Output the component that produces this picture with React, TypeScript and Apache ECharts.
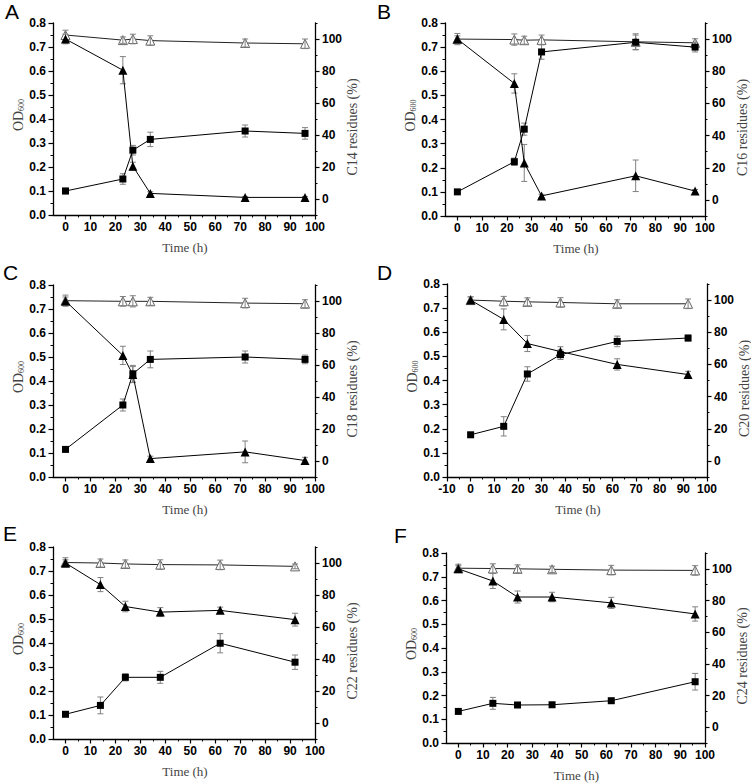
import React, { useEffect, useRef } from 'react';
import * as echarts from 'echarts';

// ---------- data ----------
const timesA = [0, 23, 27, 34, 72, 96];
const odA = [0.1, 0.15, 0.27, 0.315, 0.35, 0.34];
const odErrA = [0.012, 0.022, 0.02, 0.03, 0.025, 0.024];
const resA = [100, 80.5, 20.5, 3.5, 1, 1];
const resErrA = [3, 8.5, 2.5, 1, 0.6, 0.6];
const ctrlA = [102.5, 99.3, 100, 99, 97.5, 97];
const ctrlErrA = [3, 2, 3, 3, 2.5, 3];

const timesB = [0, 23, 27, 34, 72, 96];
const odB = [0.1, 0.225, 0.36, 0.68, 0.72, 0.7];
const odErrB = [0.005, 0.015, 0.025, 0.03, 0.03, 0.02];
const resB = [100, 72.4, 23, 2.5, 15, 5.5];
const resErrB = [2, 6, 11.5, 1, 9.8, 1];
const ctrlB = [100, 99.7, 99.3, 99.5, 98.3, 97.7];
const ctrlErrB = [3.5, 3.5, 2.5, 3, 5, 2.5];

const timesC = [0, 23, 27, 34, 72, 96];
const odC = [0.115, 0.3, 0.43, 0.49, 0.5, 0.49];
const odErrC = [0.005, 0.025, 0.035, 0.035, 0.025, 0.018];
const resC = [100, 66, 54, 1.5, 5.7, 0.3];
const resErrC = [2.5, 5.7, 5, 1.5, 6.8, 2];
const ctrlC = [100.2, 99.8, 99.8, 99.8, 98.7, 98.3];
const ctrlErrC = [3.5, 3, 3.5, 2.5, 3, 2.5];

const timesD = [0, 14, 24, 38, 62, 92];
const odD = [0.175, 0.21, 0.427, 0.507, 0.562, 0.576];
const odErrD = [0.005, 0.04, 0.03, 0.02, 0.022, 0.012];
const resD = [100, 88, 73, 68, 60, 53.7];
const resErrD = [2, 6.5, 5, 3, 3.5, 2];
const ctrlD = [100, 99.3, 98.9, 98.5, 97.7, 97.7];
const ctrlErrD = [2, 3, 2.5, 3, 2.5, 3];

const timesE = [0, 14, 24, 38, 62, 92];
const odE = [0.103, 0.14, 0.257, 0.257, 0.399, 0.32];
const odErrE = [0.005, 0.035, 0.015, 0.025, 0.04, 0.03];
const resE = [100, 86.5, 72.8, 69.3, 70.4, 64.6];
const resErrE = [2, 4.4, 3.3, 2.8, 2, 4];
const ctrlE = [100.3, 100, 99.4, 99, 98.8, 97.9];
const ctrlErrE = [3, 2.5, 2.5, 3, 3, 1.5];

const timesF = [0, 14, 24, 38, 62, 96];
const odF = [0.133, 0.167, 0.16, 0.161, 0.178, 0.258];
const odErrF = [0.006, 0.025, 0.01, 0.008, 0.01, 0.035];
const resF = [100, 92.3, 82.2, 82.2, 78.5, 71.5];
const resErrF = [2, 4.7, 3.8, 3, 3.5, 4.5];
const ctrlF = [100.4, 100.2, 100, 99.7, 99.2, 99];
const ctrlErrF = [2.5, 3, 2.5, 2, 3, 3];

// tick labels
const timeTicks = [0, 10, 20, 30, 40, 50, 60, 70, 80, 90, 100];
const timeMinor = [5, 15, 25, 35, 45, 55, 65, 75, 85, 95];
const timeTicksD = [-10, 0, 10, 20, 30, 40, 50, 60, 70, 80, 90, 100];
const timeMinorD = [-5, 5, 15, 25, 35, 45, 55, 65, 75, 85, 95];
const odTicks = [0, 0.1, 0.2, 0.3, 0.4, 0.5, 0.6, 0.7, 0.8];
const odMinor = [0.05, 0.15, 0.25, 0.35, 0.45, 0.55, 0.65, 0.75];
const resTicks = [0, 20, 40, 60, 80, 100];
const resMinor = [-10, 10, 30, 50, 70, 90, 110];

const panels = [
  { letter: 'A', chain: 'C14', t: timesA, od: odA, odE: odErrA, res: resA, resE: resErrA, ctrl: ctrlA, ctrlE: ctrlErrA, xMin: -5, xt: timeTicks, xm: timeMinor, l: 53, top: 23, r: 315, b: 215, lx: 5, ly: 1 },
  { letter: 'B', chain: 'C16', t: timesB, od: odB, odE: odErrB, res: resB, resE: resErrB, ctrl: ctrlB, ctrlE: ctrlErrB, xMin: -5, xt: timeTicks, xm: timeMinor, l: 445, top: 23, r: 705, b: 216, lx: 377, ly: 1 },
  { letter: 'C', chain: 'C18', t: timesC, od: odC, odE: odErrC, res: resC, resE: resErrC, ctrl: ctrlC, ctrlE: ctrlErrC, xMin: -5, xt: timeTicks, xm: timeMinor, l: 53, top: 285, r: 315, b: 477, lx: 3, ly: 262 },
  { letter: 'D', chain: 'C20', t: timesD, od: odD, odE: odErrD, res: resD, resE: resErrD, ctrl: ctrlD, ctrlE: ctrlErrD, xMin: -10, xt: timeTicksD, xm: timeMinorD, l: 447, top: 284, r: 707, b: 477, lx: 377, ly: 262 },
  { letter: 'E', chain: 'C22', t: timesE, od: odE, odE: odErrE, res: resE, resE: resErrE, ctrl: ctrlE, ctrlE: ctrlErrE, xMin: -5, xt: timeTicks, xm: timeMinor, l: 53, top: 547, r: 315, b: 739, lx: 3, ly: 523 },
  { letter: 'F', chain: 'C24', t: timesF, od: odF, odE: odErrF, res: resF, resE: resErrF, ctrl: ctrlF, ctrlE: ctrlErrF, xMin: -5, xt: timeTicks, xm: timeMinor, l: 446, top: 553, r: 705, b: 743, lx: 394, ly: 525 },
];

const SANS = "'Liberation Sans', Arial, sans-serif";
const SERIF = "'Liberation Serif', 'Times New Roman', serif";
const AXIS_COLOR = '#000';
const NAME_COLOR = '#444';

function errRender(params: any, api: any) {
  const x = api.value(0);
  const lo = api.coord([x, api.value(1)]);
  const hi = api.coord([x, api.value(2)]);
  const w = 3;
  const st = { stroke: '#808080', lineWidth: 1 };
  return {
    type: 'group',
    children: [
      { type: 'line', shape: { x1: lo[0], y1: lo[1], x2: hi[0], y2: hi[1] }, style: st },
      { type: 'line', shape: { x1: lo[0] - w, y1: lo[1], x2: lo[0] + w, y2: lo[1] }, style: st },
      { type: 'line', shape: { x1: hi[0] - w, y1: hi[1], x2: hi[0] + w, y2: hi[1] }, style: st },
    ],
  };
}

function buildOption() {
  const grid: any[] = [];
  const xAxis: any[] = [];
  const yAxis: any[] = [];
  const series: any[] = [];
  const graphic: any[] = [];

  panels.forEach((p, k) => {
    grid.push({ left: p.l, top: p.top, width: p.r - p.l, height: p.b - p.top, containLabel: false });
    const labelStyle = { color: '#000', fontFamily: SANS, fontWeight: 'bold', fontSize: 12 };
    const minorLine = { show: false, onZero: false };
    // x major
    xAxis.push({
      type: 'value', gridIndex: k, min: p.xMin, max: 100, position: 'bottom',
      axisLine: { show: true, onZero: false, lineStyle: { color: AXIS_COLOR, width: 1.3 } },
      axisTick: { show: true, length: 4.5, customValues: p.xt, lineStyle: { color: AXIS_COLOR, width: 1.2 } },
      axisLabel: { show: true, customValues: p.xt, margin: 6, showMinLabel: true, showMaxLabel: true, ...labelStyle },
      splitLine: { show: false },
    });
    // x minor
    xAxis.push({
      type: 'value', gridIndex: k, min: p.xMin, max: 100, position: 'bottom',
      axisLine: minorLine,
      axisTick: { show: true, length: 2.5, customValues: p.xm, lineStyle: { color: AXIS_COLOR, width: 1 } },
      axisLabel: { show: false },
      splitLine: { show: false },
    });
    // y left major
    yAxis.push({
      type: 'value', gridIndex: k, min: 0, max: 0.8, position: 'left',
      axisLine: { show: true, onZero: false, lineStyle: { color: AXIS_COLOR, width: 1.3 } },
      axisTick: { show: true, length: 4.5, customValues: odTicks, lineStyle: { color: AXIS_COLOR, width: 1.2 } },
      axisLabel: { show: true, customValues: odTicks, margin: 7, showMinLabel: true, showMaxLabel: true, formatter: (v: number) => v.toFixed(1), ...labelStyle },
      splitLine: { show: false },
    });
    // y left minor
    yAxis.push({
      type: 'value', gridIndex: k, min: 0, max: 0.8, position: 'left',
      axisLine: minorLine,
      axisTick: { show: true, length: 2.5, customValues: odMinor, lineStyle: { color: AXIS_COLOR, width: 1 } },
      axisLabel: { show: false },
      splitLine: { show: false },
    });
    // y right major
    yAxis.push({
      type: 'value', gridIndex: k, min: -10, max: 110, position: 'right',
      axisLine: { show: true, onZero: false, lineStyle: { color: AXIS_COLOR, width: 1.3 } },
      axisTick: { show: true, length: 4.5, customValues: resTicks, lineStyle: { color: AXIS_COLOR, width: 1.2 } },
      axisLabel: { show: true, customValues: resTicks, margin: 7, showMinLabel: true, showMaxLabel: true, ...labelStyle },
      splitLine: { show: false },
    });
    // y right minor
    yAxis.push({
      type: 'value', gridIndex: k, min: -10, max: 110, position: 'right',
      axisLine: minorLine,
      axisTick: { show: true, length: 2.5, customValues: resMinor, lineStyle: { color: AXIS_COLOR, width: 1 } },
      axisLabel: { show: false },
      splitLine: { show: false },
    });

    const xi = 2 * k;
    const yl = 4 * k;
    const yr = 4 * k + 2;

    // control (open triangles)
    series.push({
      type: 'line', xAxisIndex: xi, yAxisIndex: yr, z: 2,
      data: p.t.map((t, i) => [t, p.ctrl[i]]),
      symbol: 'triangle', symbolSize: 9, showAllSymbol: true,
      lineStyle: { color: '#222', width: 1 },
      itemStyle: { color: '#fff', borderColor: '#666', borderWidth: 1 },
    });
    series.push({
      type: 'custom', xAxisIndex: xi, yAxisIndex: yr, z: 3, renderItem: errRender,
      encode: { x: 0, y: [1, 2] },
      data: p.t.map((t, i) => [t, p.ctrl[i] - p.ctrlE[i], p.ctrl[i] + p.ctrlE[i]]),
    });
    // residues (filled triangles)
    series.push({
      type: 'custom', xAxisIndex: xi, yAxisIndex: yr, z: 3, renderItem: errRender,
      encode: { x: 0, y: [1, 2] },
      data: p.t.map((t, i) => [t, p.res[i] - p.resE[i], p.res[i] + p.resE[i]]),
    });
    series.push({
      type: 'line', xAxisIndex: xi, yAxisIndex: yr, z: 4,
      data: p.t.map((t, i) => [t, p.res[i]]),
      symbol: 'triangle', symbolSize: 9, showAllSymbol: true,
      lineStyle: { color: '#000', width: 1 },
      itemStyle: { color: '#000' },
    });
    // OD600 (squares)
    series.push({
      type: 'custom', xAxisIndex: xi, yAxisIndex: yl, z: 3, renderItem: errRender,
      encode: { x: 0, y: [1, 2] },
      data: p.t.map((t, i) => [t, p.od[i] - p.odE[i], p.od[i] + p.odE[i]]),
    });
    series.push({
      type: 'line', xAxisIndex: xi, yAxisIndex: yl, z: 5,
      data: p.t.map((t, i) => [t, p.od[i]]),
      symbol: 'rect', symbolSize: 7, showAllSymbol: true,
      lineStyle: { color: '#000', width: 1 },
      itemStyle: { color: '#000' },
    });

    // texts
    graphic.push({
      type: 'text', x: p.lx, y: p.ly,
      style: { text: p.letter, fontFamily: SANS, fontSize: 21, fill: '#000', textVerticalAlign: 'top' },
    });
    graphic.push({
      type: 'text', x: (p.l + p.r) / 2 + 1, y: p.b + 32,
      style: { text: 'Time (h)', fontFamily: SERIF, fontSize: 13, fill: NAME_COLOR, textAlign: 'center', textVerticalAlign: 'middle' },
    });
    graphic.push({
      type: 'text', x: p.l - 37, y: (p.top + p.b) / 2 - 4, rotation: Math.PI / 2,
      style: {
        text: '{a|OD}{b|600}', fontFamily: SERIF, fill: NAME_COLOR, textAlign: 'center', textVerticalAlign: 'middle',
        rich: {
          a: { fontFamily: SERIF, fontSize: 14, fill: NAME_COLOR, lineHeight: 18, verticalAlign: 'bottom' },
          b: { fontFamily: SERIF, fontSize: 8, fill: NAME_COLOR, lineHeight: 18, verticalAlign: 'bottom' },
        },
      },
    });
    graphic.push({
      type: 'text', x: p.r + 37, y: (p.top + p.b) / 2 + 8, rotation: Math.PI / 2,
      style: { text: p.chain + ' residues (%)', fontFamily: SERIF, fontSize: 14, fill: NAME_COLOR, textAlign: 'center', textVerticalAlign: 'middle' },
    });
  });

  return { animation: false, backgroundColor: '#fff', grid, xAxis, yAxis, series, graphic };
}

export default function App() {
  const ref = useRef<HTMLDivElement>(null);
  useEffect(() => {
    if (!ref.current) return;
    const chart = echarts.init(ref.current, null, { renderer: 'svg' });
    chart.setOption(buildOption() as any);
    return () => chart.dispose();
  }, []);
  return <div ref={ref} style={{ position: 'fixed', left: 0, top: 0, width: 751, height: 783 }} />;
}
